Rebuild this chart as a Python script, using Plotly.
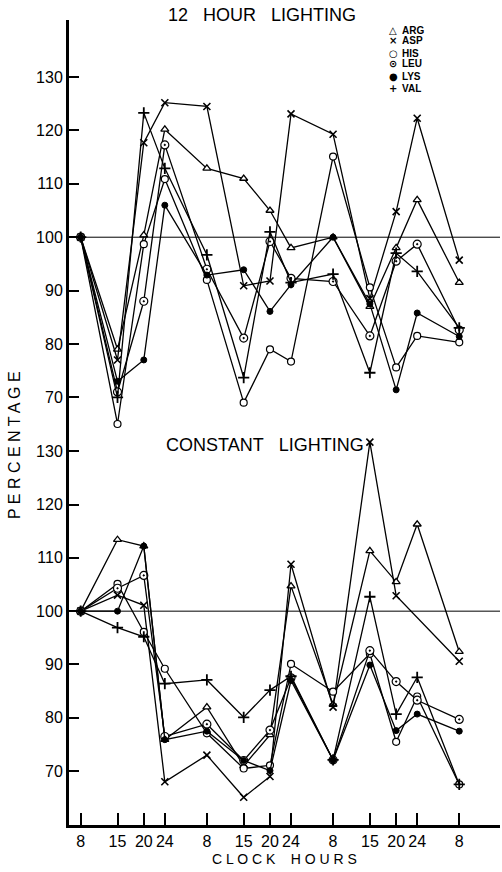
import plotly.graph_objects as go

# elapsed hours from 8 o'clock on day 1, and the clock-hour labels
hours = [0, 7, 12, 16, 24, 31, 36, 40, 48, 55, 60, 64, 72]
hour_labels = ["8", "15", "20", "24", "8", "15", "20", "24", "8", "15", "20", "24", "8"]
y_ticks = [70, 80, 90, 100, 110, 120, 130]

# 12 hour lighting (upper panel), percentage
ARG_12 = [100, 79, 100.4, 120.2, 112.9, 111, 105, 98, 100, 87, 98, 107, 91.5]
ASP_12 = [100, 77, 117.7, 125.2, 124.5, 90.9, 91.8, 123.1, 119.3, 88.5, 104.8, 122.3, 95.7]
HIS_12 = [100, 65, 98.7, 110.9, 92, 69, 79, 76.7, 115.1, 90.6, 75.6, 81.5, 80.3]
LEU_12 = [100, 71, 88, 117.3, 94, 81.1, 99.2, 92.3, 91.7, 81.5, 95.5, 98.7, 82.6]
LYS_12 = [100, 73, 77, 106, 92.9, 93.9, 86.1, 91.1, 100, 87.5, 71.4, 85.8, 81.4]
VAL_12 = [100, 70, 123.3, 112.9, 96.7, 73.7, 101, 91.5, 93.1, 74.6, 97, 93.6, 83]

# constant lighting (lower panel), percentage
ARG_C = [100, 113.4, 112.2, 75.9, 82, 71, 76.8, 104.7, 82.5, 111.3, 105.5, 116.3, 92.4]
ASP_C = [100, 103, 101.1, 68, 73, 65.1, 69, 108.8, 82, 131.7, 102.9, None, 90.6]
HIS_C = [100, 105.1, 96.1, 89.2, 77.1, 70.5, 71.1, 90.1, 84.9, 92, 75.5, 84, 67.5]
LEU_C = [100, 104.3, 106.7, 76.5, 78.8, 72, 77.7, 87.5, 72.1, 92.6, 86.8, 83.3, 79.7]
LYS_C = [100, 100, 112.2, 75.9, 77.5, 72, 70.1, 87, 72.1, 89.9, 77.6, 80.7, 77.5]
VAL_C = [100, 96.9, 95.2, 86.4, 87.1, 80.1, 85.2, 87.8, 72.1, 102.7, 80.7, 87.6, 67.5]

names = ["ARG", "ASP", "HIS", "LEU", "LYS", "VAL"]
upper = [ARG_12, ASP_12, HIS_12, LEU_12, LYS_12, VAL_12]
lower = [ARG_C, ASP_C, HIS_C, LEU_C, LYS_C, VAL_C]

markers = {
    "ARG": dict(symbol="triangle-up", size=7, color="white", line=dict(color="black", width=1.3)),
    "ASP": dict(symbol="x-thin", size=7, color="black", line=dict(color="black", width=1.6)),
    "HIS": dict(symbol="circle", size=7, color="white", line=dict(color="black", width=1.2)),
    "LEU": dict(symbol="circle-dot", size=8, color="white", line=dict(color="black", width=1.2)),
    "LYS": dict(symbol="circle", size=6, color="black", line=dict(color="black", width=1)),
    "VAL": dict(symbol="cross-thin", size=8, color="black", line=dict(color="black", width=1.8)),
}

fig = go.Figure()
for name, vals in zip(names, upper):
    fig.add_trace(go.Scatter(x=hours, y=vals, mode="lines+markers", name=name,
                             line=dict(color="black", width=1.3), marker=markers[name],
                             xaxis="x2", yaxis="y2", showlegend=False, connectgaps=True))
for name, vals in zip(names, lower):
    fig.add_trace(go.Scatter(x=hours, y=vals, mode="lines+markers", name=name,
                             line=dict(color="black", width=1.3), marker=markers[name],
                             xaxis="x", yaxis="y", showlegend=False, connectgaps=True))

split = 0.4882
tickfont = dict(family="Liberation Sans, Arial, sans-serif", size=16, color="black")
yax = dict(tickmode="array", tickvals=y_ticks, ticks="inside", ticklen=10, tickwidth=1.5,
           tickcolor="black", showline=True, linecolor="black", linewidth=3,
           showgrid=False, zeroline=False, tickfont=tickfont)

fig.update_layout(
    width=502, height=872,
    margin=dict(l=69, r=2, t=20, b=47),
    paper_bgcolor="white", plot_bgcolor="white",
    xaxis=dict(domain=[0, 1], range=[-2.225, 79.75], anchor="y", tickmode="array",
               tickvals=hours, ticktext=hour_labels, ticks="inside", ticklen=12, tickwidth=1.5,
               tickcolor="black", showline=True, linecolor="black", linewidth=2.5,
               showgrid=False, zeroline=False, tickfont=tickfont),
    xaxis2=dict(matches="x", anchor="y2", visible=False),
    yaxis=dict(domain=[0, split], range=[59.9, 133.6], anchor="x", **yax),
    yaxis2=dict(domain=[split, 1], range=[63.5, 140.7], anchor="x2", **yax),
    showlegend=False,
)

# 100 % reference lines
for yr in ("y", "y2"):
    fig.add_shape(type="line", xref="paper", yref=yr, x0=0, x1=1, y0=100, y1=100,
                  line=dict(color="black", width=1))

def px_x(px):
    return (px - 69) / 431.0

def px_y(py):
    return (825 - py) / 805.0

title_font = dict(family="Liberation Sans, Arial, sans-serif", size=18, color="black")
sp3 = "\u00a0\u00a0\u00a0"
fig.add_annotation(text="12" + sp3 + "HOUR" + sp3 + "LIGHTING", xref="paper", yref="paper",
                   x=px_x(262), y=px_y(15), showarrow=False, font=title_font,
                   xanchor="center", yanchor="middle")
fig.add_annotation(text="CONSTANT" + sp3 + "LIGHTING", xref="paper", yref="paper",
                   x=px_x(265), y=px_y(445), showarrow=False, font=title_font,
                   xanchor="center", yanchor="middle")

fig.add_annotation(text=" ".join("CLOCK") + "\u00a0\u00a0\u00a0\u00a0" + " ".join("HOURS"),
                   xref="paper", yref="paper", x=px_x(284.5), y=px_y(859), showarrow=False,
                   font=dict(family="Liberation Sans, Arial, sans-serif", size=14, color="black"),
                   xanchor="center", yanchor="middle")
fig.add_annotation(text=" ".join("PERCENTAGE"), xref="paper", yref="paper",
                   x=px_x(14), y=px_y(445), showarrow=False, textangle=-90,
                   font=dict(family="Liberation Sans, Arial, sans-serif", size=16, color="black"),
                   xanchor="center", yanchor="middle")

# legend key
legend_rows = [("\u25b3", "ARG", 30), ("\u00d7", "ASP", 40), ("\u25cb", "HIS", 53),
               ("\u2299", "LEU", 64), ("\u25cf", "LYS", 77), ("+", "VAL", 88)]
for sym, lab, py in legend_rows:
    fig.add_annotation(text="<b>" + sym + "</b>", xref="paper", yref="paper", x=px_x(393),
                       y=px_y(py), showarrow=False, xanchor="center", yanchor="middle",
                       font=dict(family="DejaVu Sans, sans-serif", size=10, color="black"))
    fig.add_annotation(text="<b>" + lab + "</b>", xref="paper", yref="paper", x=px_x(400),
                       y=px_y(py), showarrow=False, xanchor="left", yanchor="middle",
                       font=dict(family="Liberation Sans, Arial, sans-serif", size=10, color="black"))

# remove the default 8px page margin so the 502x872 figure fills the window exactly
fig.write_html("out.html",
               config={"displayModeBar": False},
               post_script="document.body.style.margin='0';document.body.style.overflow='hidden';")
